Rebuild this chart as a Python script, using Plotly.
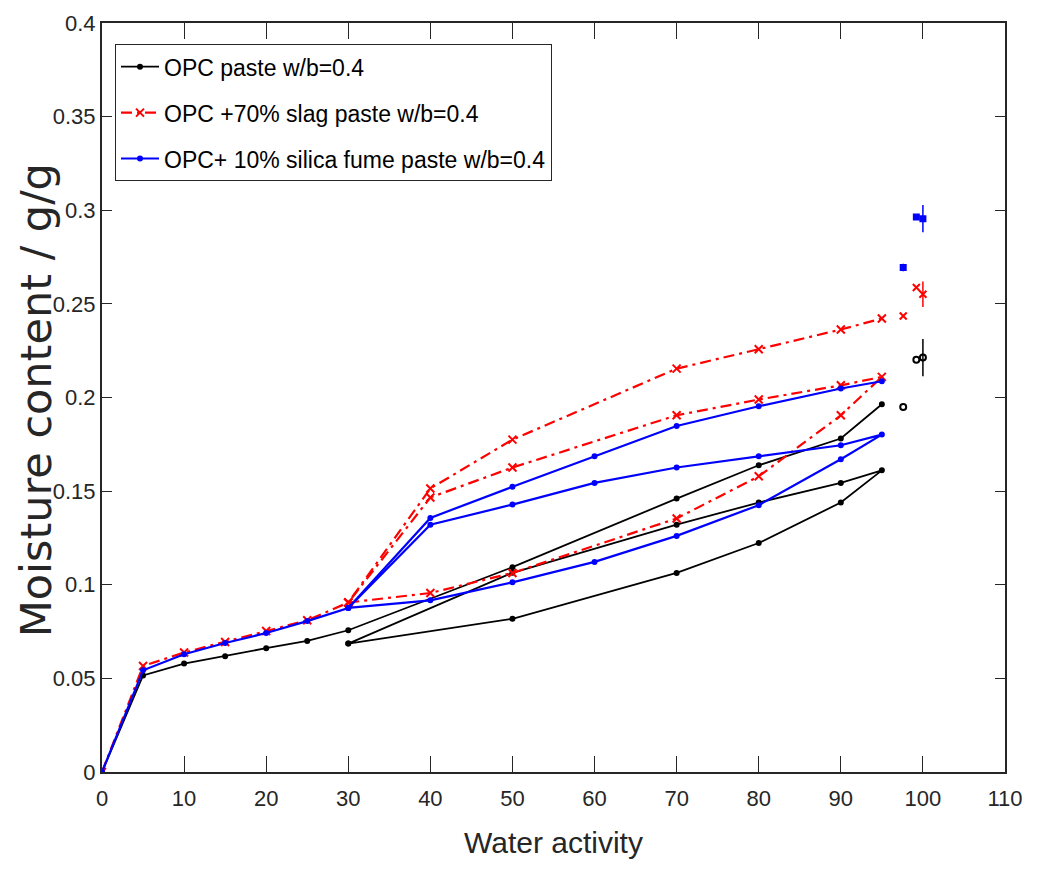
import plotly.graph_objects as go

# ---- sorption isotherms (water activity in %, moisture content in g/g) ----
# OPC paste: first adsorption, then desorption / re-adsorption loop 95 -> 30 -> 95
opc_ads_aw = [0, 5, 10, 15, 20, 25, 30, 50, 70, 80, 90, 95]
opc_ads = [0, 0.0516, 0.0579, 0.0618, 0.0661, 0.0700, 0.0757, 0.1094, 0.1460, 0.1638, 0.1781, 0.1964]
opc_loop_aw = [30, 50, 70, 80, 90, 95, 90, 80, 70, 50, 30]
opc_loop = [0.0686, 0.0818, 0.1063, 0.1223, 0.1439, 0.1611, 0.1544, 0.1439, 0.1321, 0.1064, 0.0686]

# OPC + 70% slag paste
slag_ads_aw = [0, 5, 10, 15, 20, 25, 30, 40, 50, 70, 80, 90, 95]
slag_ads = [0, 0.0566, 0.0638, 0.0694, 0.0753, 0.0810, 0.0905, 0.1514, 0.1775, 0.2154, 0.2258, 0.2363, 0.2422]
slag_loop_aw = [30, 40, 50, 70, 80, 90, 95, 90, 80, 70, 50, 40, 30]
slag_loop = [0.0905, 0.0956, 0.1063, 0.1354, 0.1579, 0.1905, 0.2110, 0.2065, 0.1989, 0.1905, 0.1626, 0.1466, 0.0905]

# OPC + 10% silica fume paste
sf_ads_aw = [0, 5, 10, 15, 20, 25, 30, 40, 50, 60, 70, 80, 90, 95]
sf_ads = [0, 0.0543, 0.0629, 0.0689, 0.0742, 0.0806, 0.0876, 0.1357, 0.1523, 0.1686, 0.1848, 0.1953, 0.2048, 0.2087]
sf_loop_aw = [30, 40, 50, 60, 70, 80, 90, 95, 90, 80, 70, 60, 50, 40, 30]
sf_loop = [0.0876, 0.0917, 0.1013, 0.1122, 0.1261, 0.1425, 0.1670, 0.1802, 0.1745, 0.1686, 0.1626, 0.1544, 0.1428, 0.1321, 0.0876]

# near-saturation measurements
sat_aw = [97.6, 99.2, 100]
opc_sat = [0.1949, 0.2202, 0.2213]
opc_sat_err = [0, 0, 0.0100]
slag_sat = [0.2435, 0.2587, 0.2551]
slag_sat_err = [0, 0, 0.0068]
sf_sat = [0.2694, 0.2964, 0.2955]
sf_sat_err = [0.0020, 0, 0.0073]

names = ["OPC paste w/b=0.4", "OPC +70% slag paste w/b=0.4", "OPC+ 10% silica fume paste w/b=0.4"]

AXC = "#262626"
SANS = "Liberation Sans, Arial, sans-serif"


def joined(a_x, a_y, b_x, b_y):
    return a_x + [None] + b_x, a_y + [None] + b_y


fig = go.Figure()

series = [
    (opc_ads_aw, opc_ads, opc_loop_aw, opc_loop, "#000000", "solid", "circle", 4, 1.8),
    (slag_ads_aw, slag_ads, slag_loop_aw, slag_loop, "#ff0000", "11px,5px,3px,5px", "x-thin-open", 8, 2.2),
    (sf_ads_aw, sf_ads, sf_loop_aw, sf_loop, "#0000ff", "solid", "circle", 4, 2.2),
]
for i, (ax_, ay_, lx_, ly_, col, dash, sym, msz, lw) in enumerate(series):
    x, y = joined(ax_, ay_, lx_, ly_)
    fig.add_trace(go.Scatter(
        x=x, y=y, mode="lines+markers", name=names[i], legendgroup=f"g{i}",
        connectgaps=False,
        line=dict(color=col, width=lw, dash=dash),
        marker=dict(symbol=sym, size=msz, color=col, line=dict(color=col, width=2)),
    ))

sat = [
    (opc_sat, opc_sat_err, "#000000", "circle-open", 6),
    (slag_sat, slag_sat_err, "#ff0000", "x-thin-open", 7),
    (sf_sat, sf_sat_err, "#0000ff", "square", 5),
]
for vals, err, col, sym, msz in sat:
    fig.add_trace(go.Scatter(
        x=sat_aw, y=vals, mode="markers", showlegend=False,
        marker=dict(symbol=sym, size=msz, color=col, line=dict(color=col, width=2)),
        error_y=dict(type="data", array=err, visible=True, color=col, thickness=1.5, width=0),
    ))

fig.update_layout(
    width=1038, height=874,
    margin=dict(l=102, r=33, t=23, b=102),
    paper_bgcolor="white", plot_bgcolor="white",
    font=dict(family=SANS, color=AXC),
    showlegend=True,
    legend=dict(
        x=0.0144, y=0.9716, xanchor="left", yanchor="top",
        bgcolor="white", bordercolor=AXC, borderwidth=1,
        font=dict(family=SANS, size=23, color="#000000"),
        tracegroupgap=13, itemwidth=38,
    ),
    annotations=[dict(
        text="Moisture content / g/g", textangle=-90,
        xref="paper", yref="paper", x=-0.073, y=0.4963,
        xanchor="center", yanchor="middle", showarrow=False,
        font=dict(family="DejaVu Sans", size=43, color=AXC),
    )],
)
fig.update_xaxes(
    range=[0, 110], tickvals=list(range(0, 111, 10)),
    ticks="inside", ticklen=16, tickwidth=1.2, tickcolor=AXC,
    showline=True, linecolor=AXC, linewidth=2, mirror="ticks",
    showgrid=False, zeroline=False, ticklabelstandoff=6,
    tickfont=dict(family=SANS, size=22, color=AXC),
    title=dict(text="Water activity", font=dict(family=SANS, size=30, color=AXC), standoff=22),
)
fig.update_yaxes(
    range=[0, 0.4], tickvals=[0, 0.05, 0.1, 0.15, 0.2, 0.25, 0.3, 0.35, 0.4],
    ticktext=["0", "0.05", "0.1", "0.15", "0.2", "0.25", "0.3", "0.35", "0.4"],
    ticks="inside", ticklen=10, tickwidth=1.2, tickcolor=AXC,
    showline=True, linecolor=AXC, linewidth=2, mirror="ticks",
    showgrid=False, zeroline=False,
    tickfont=dict(family=SANS, size=22, color=AXC),
)

fig.write_html("out.html")
